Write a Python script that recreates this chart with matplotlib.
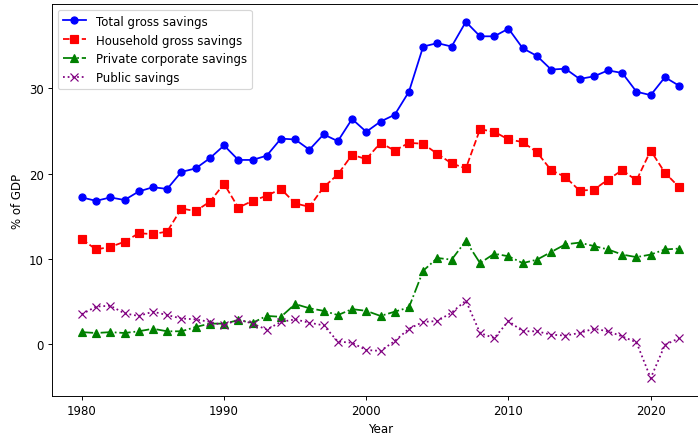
import numpy as np
import matplotlib
matplotlib.use("Agg")
from matplotlib import pyplot as plt

years = np.arange(1980, 2023)

# gross savings, % of GDP
total = [17.2, 16.8, 17.2, 16.9, 17.9, 18.4, 18.2, 20.2, 20.6, 21.8,
         23.3, 21.6, 21.6, 22.1, 24.1, 24.0, 22.8, 24.6, 23.8, 26.4,
         24.9, 26.1, 26.9, 29.6, 34.9, 35.3, 34.9, 37.8, 36.1, 36.1,
         37.0, 34.7, 33.8, 32.2, 32.3, 31.1, 31.4, 32.1, 31.8, 29.6,
         29.2, 31.3, 30.3]
household = [12.3, 11.1, 11.4, 12.0, 13.0, 12.9, 13.2, 15.9, 15.6, 16.7,
             18.8, 16.0, 16.8, 17.4, 18.2, 16.5, 16.1, 18.4, 19.9, 22.2,
             21.7, 23.6, 22.7, 23.6, 23.5, 22.3, 21.2, 20.6, 25.2, 24.9,
             24.0, 23.7, 22.5, 20.4, 19.6, 18.0, 18.1, 19.3, 20.4, 19.2,
             22.7, 20.1, 18.4]
private_corp = [1.4, 1.3, 1.4, 1.3, 1.5, 1.8, 1.5, 1.5, 2.0, 2.4,
                2.4, 2.8, 2.5, 3.3, 3.2, 4.7, 4.2, 3.9, 3.4, 4.1,
                3.9, 3.3, 3.8, 4.3, 8.6, 10.1, 9.9, 12.1, 9.5, 10.6,
                10.3, 9.5, 9.9, 10.8, 11.7, 11.9, 11.5, 11.1, 10.5, 10.2,
                10.5, 11.1, 11.2]
public = [3.5, 4.4, 4.5, 3.6, 3.3, 3.8, 3.4, 3.0, 2.9, 2.6,
          2.2, 2.9, 2.4, 1.7, 2.6, 2.9, 2.5, 2.2, 0.3, 0.15,
          -0.7, -0.8, 0.35, 1.8, 2.6, 2.7, 3.7, 5.1, 1.3, 0.7,
          2.7, 1.5, 1.5, 1.1, 1.0, 1.3, 1.8, 1.5, 0.9, 0.2,
          -4.0, -0.1, 0.7]

dpi = 85
fig = plt.figure(figsize=(699/dpi, 435/dpi), dpi=dpi)
ax = fig.add_axes([52/699, 38/435, 657/699, 392/435])

ax.plot(years, total, "o-", color="blue", label="Total gross savings")
ax.plot(years, household, "s--", color="red", label="Household gross savings")
ax.plot(years, private_corp, "^-.", color="green", label="Private corporate savings")
ax.plot(years, public, "x:", color="purple", label="Public savings")

ax.set_xlabel("Year")
ax.set_ylabel("% of GDP")
ax.legend(loc="upper left")

fig.savefig("out.png", dpi=dpi)
